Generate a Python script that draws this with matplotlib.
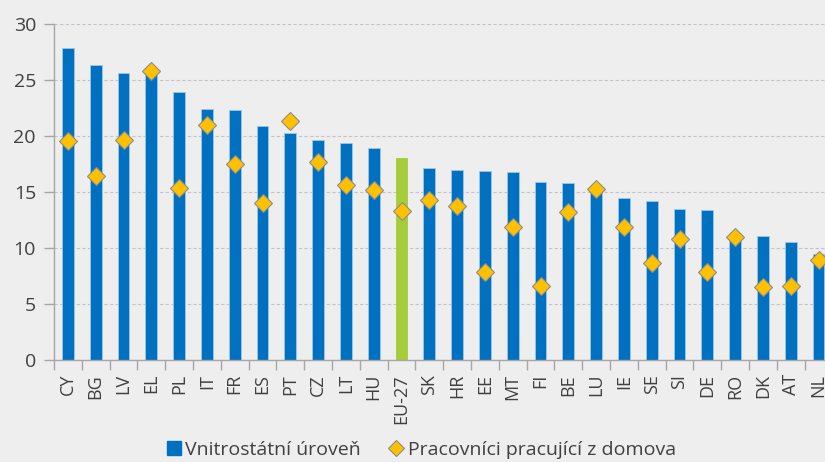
import numpy as np
import matplotlib
matplotlib.use('agg')
import matplotlib.pyplot as plt
from matplotlib.lines import Line2D

countries = ['CY', 'BG', 'LV', 'EL', 'PL', 'IT', 'FR', 'ES', 'PT', 'CZ', 'LT', 'HU', 'EU-27',
             'SK', 'HR', 'EE', 'MT', 'FI', 'BE', 'LU', 'IE', 'SE', 'SI', 'DE', 'RO', 'DK', 'AT', 'NL']
national = [27.9, 26.3, 25.6, 25.7, 23.9, 22.4, 22.35, 20.9, 20.3, 19.6, 19.4, 18.95, 18.0,
            17.15, 17.0, 16.9, 16.75, 15.85, 15.8, 15.4, 14.45, 14.2, 13.5, 13.35, 11.1, 11.05, 10.5, 9.45]
home = [19.55, 16.4, 19.6, 25.8, 15.4, 21.0, 17.5, 14.0, 21.3, 17.7, 15.6, 15.2, 13.27,
        14.3, 13.75, 7.86, 11.9, 6.6, 13.2, 15.3, 11.87, 8.7, 10.8, 7.9, 11.0, 6.55, 6.65, 8.9]

blue = '#0070C0'
green = '#A5CD39'
gold = '#FFC000'
bg = '#EEEEEE'
axcol = '#A6A6A6'

plt.rcParams['font.family'] = ['Open Sans', 'DejaVu Sans']

fig = plt.figure(figsize=(8.25, 4.62), dpi=100, facecolor=bg)
# axes runs a bit past the right edge, like the original (NL is cut)
ax = fig.add_axes([54/825, 102/462, 778.4/825, 336/462], facecolor=bg)

x = np.arange(len(countries))
colors = [green if c == 'EU-27' else blue for c in countries]
ax.bar(x, national, width=0.43, color=colors, edgecolor=['#9AC8EA' if c != 'EU-27' else green for c in countries],
       linewidth=0.6, zorder=2)
ax.plot(x, home, linestyle='none', marker='D', markersize=9, markerfacecolor=gold,
        markeredgecolor='#8C8C8C', markeredgewidth=0.8, zorder=3, clip_on=False)

ax.set_xlim(-0.5, len(countries) - 0.5)
ax.set_ylim(0, 30)
ax.set_yticks(np.arange(0, 31, 5))
ax.yaxis.grid(True, linestyle=(0, (3, 2)), color='#C4C4C4', linewidth=0.8, zorder=0)
ax.set_axisbelow(True)

ax.set_xticks(x)
ax.set_xticklabels(countries, rotation=90, fontsize=13, color='#404040')
ax.set_xticks(np.arange(-0.5, len(countries), 1), minor=True)
ax.tick_params(axis='x', which='major', length=0, pad=10)
ax.tick_params(axis='x', which='minor', length=7, color=axcol, width=1)
ax.tick_params(axis='y', length=7, color=axcol, width=1, labelsize=14, labelcolor='#404040', pad=6)

for s in ['top', 'right']:
    ax.spines[s].set_visible(False)
for s in ['left', 'bottom']:
    ax.spines[s].set_color(axcol)
    ax.spines[s].set_linewidth(1)

handles = [Line2D([], [], linestyle='none', marker='s', markersize=10, markerfacecolor=blue,
                  markeredgecolor=blue),
           Line2D([], [], linestyle='none', marker='D', markersize=8, markerfacecolor=gold,
                  markeredgecolor='#8C8C8C', markeredgewidth=0.8)]
fig.legend(handles, ['Vnitrostátní úroveň', 'Pracovníci pracující z domova'],
           loc='center', bbox_to_anchor=(420/825, 1 - 450/462), ncol=2, frameon=False,
           fontsize=14, handletextpad=0.1, columnspacing=1.3, handlelength=1.0,
           labelcolor='#404040')

fig.savefig('out.png', dpi=100, facecolor=bg)
